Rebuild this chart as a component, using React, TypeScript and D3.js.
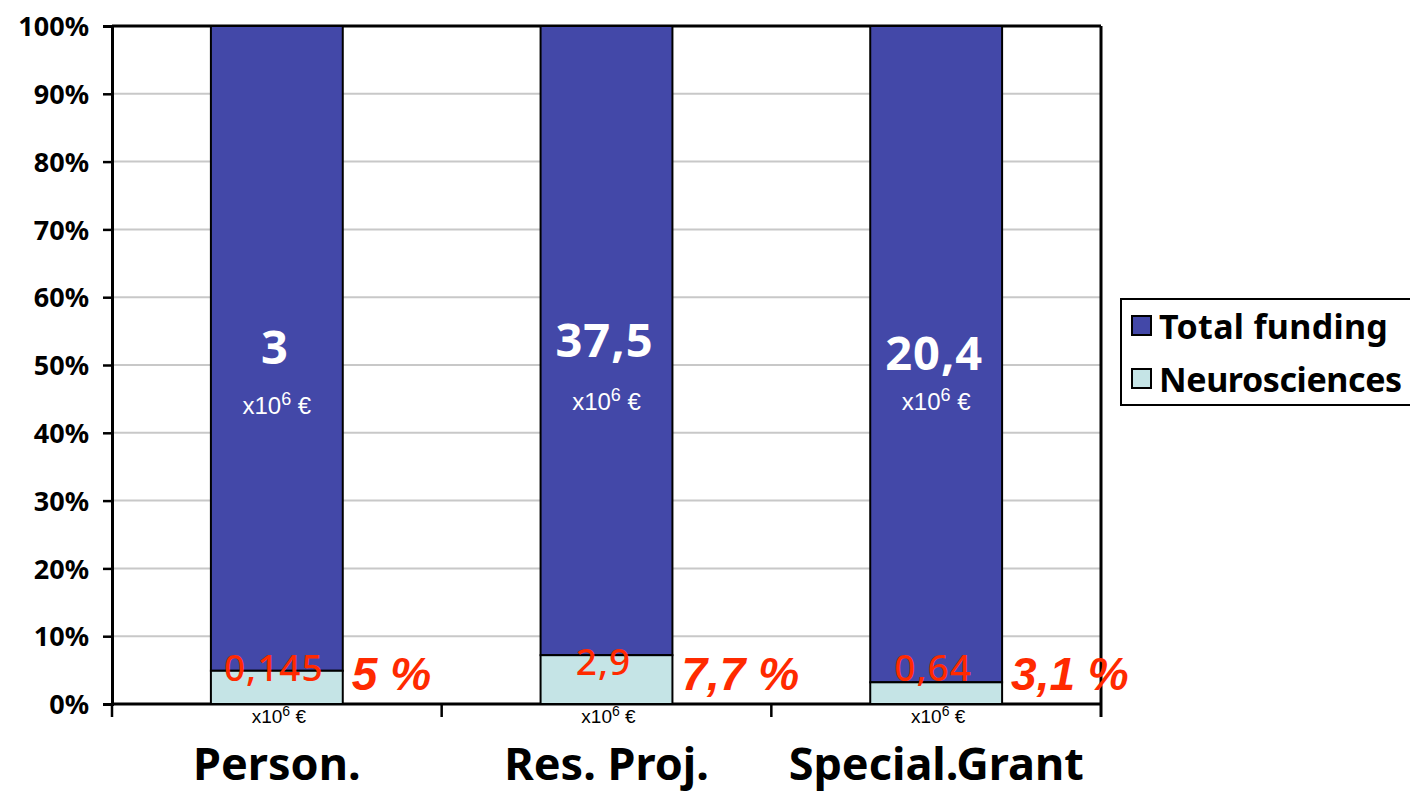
import React, { useEffect, useRef } from 'react';
import * as d3 from 'd3';

const categories = ['Person.', 'Res. Proj.', 'Special.Grant'];
const totalLabels = ['3', '37,5', '20,4'];
const neuroLabels = ['0,145', '2,9', '0,64'];
const shareLabels = ['5 %', '7,7 %', '3,1 %'];
// Neurosciences share of each bar, rest is Total funding
const neuroShare = [4.9, 7.2, 3.2];
const yTicks = [0, 10, 20, 30, 40, 50, 60, 70, 80, 90, 100];
const legendItems = [
  { name: 'Total funding', color: '#4348a8' },
  { name: 'Neurosciences', color: '#c5e4e6' },
];

const sans = '"Noto Sans", "DejaVu Sans", sans-serif';
const arial = '"Liberation Sans", Arial, sans-serif';

const App: React.FC = () => {
  const ref = useRef<SVGSVGElement>(null);

  useEffect(() => {
    const svg = d3.select(ref.current);
    svg.selectAll('*').remove();

    const left = 112, right = 1101, top = 26, bottom = 704;

    const x = d3.scaleBand().domain(categories).range([left, right]).padding(0);
    const y = d3.scaleLinear().domain([0, 100]).range([bottom, top]);
    const barW = x.bandwidth() * 0.4;
    const cx = (c: string) => x(c)! + x.bandwidth() / 2;

    // gridlines
    svg.append('g')
      .selectAll('line')
      .data(yTicks.filter(t => t > 0))
      .enter()
      .append('line')
      .attr('x1', left).attr('x2', right)
      .attr('y1', d => y(d)).attr('y2', d => y(d))
      .attr('stroke', '#c8c8c8').attr('stroke-width', 2);

    // y axis
    const yAxis = svg.append('g')
      .attr('transform', `translate(${left},0)`)
      .call(d3.axisLeft(y).tickValues(yTicks).tickSize(9).tickFormat(d => `${d}%`));
    yAxis.select('.domain').attr('stroke', '#000').attr('stroke-width', 3);
    yAxis.selectAll('.tick line').attr('stroke', '#000').attr('stroke-width', 2.5);
    yAxis.selectAll('.tick text')
      .attr('x', -23)
      .attr('dy', '0.36em')
      .attr('fill', '#000')
      .style('font-family', sans)
      .style('font-weight', 'bold')
      .style('font-size', '27px');

    // top and right borders
    svg.append('line').attr('x1', left).attr('x2', right).attr('y1', top).attr('y2', top)
      .attr('stroke', '#000').attr('stroke-width', 3);
    svg.append('line').attr('x1', right).attr('x2', right).attr('y1', top).attr('y2', bottom + 13)
      .attr('stroke', '#000').attr('stroke-width', 3);

    // bottom axis with category separators
    svg.append('line').attr('x1', left).attr('x2', right).attr('y1', bottom).attr('y2', bottom)
      .attr('stroke', '#000').attr('stroke-width', 3);
    svg.append('g')
      .selectAll('line')
      .data(categories)
      .enter()
      .append('line')
      .attr('x1', d => x(d)!).attr('x2', d => x(d)!)
      .attr('y1', bottom).attr('y2', bottom + 13)
      .attr('stroke', '#000').attr('stroke-width', 2.5);

    // stacked bars
    const g = svg.append('g');
    categories.forEach((c, i) => {
      const x0 = cx(c) - barW / 2;
      g.append('rect')
        .attr('x', x0).attr('y', y(100))
        .attr('width', barW).attr('height', y(neuroShare[i]) - y(100))
        .attr('fill', legendItems[0].color)
        .attr('stroke', '#000').attr('stroke-width', 2);
      g.append('rect')
        .attr('x', x0).attr('y', y(neuroShare[i]))
        .attr('width', barW).attr('height', y(0) - y(neuroShare[i]))
        .attr('fill', legendItems[1].color)
        .attr('stroke', '#000').attr('stroke-width', 2);
    });

    // labels in bars
    const totalY = [364, 357, 370];
    const unitY = [414, 410, 410];
    const neuroY = [681, 675, 681];
    categories.forEach((c, i) => {
      svg.append('text')
        .attr('x', cx(c) - 2).attr('y', totalY[i])
        .attr('text-anchor', 'middle').attr('fill', '#fff')
        .style('font-family', sans)
        .style('font-weight', 'bold').style('font-size', '47px')
        .style('letter-spacing', '1px')
        .text(totalLabels[i]);
      const u = svg.append('text')
        .attr('x', cx(c)).attr('y', unitY[i])
        .attr('text-anchor', 'middle').attr('fill', '#fff')
        .style('font-family', arial)
        .style('font-size', '24px');
      u.append('tspan').text('x10');
      u.append('tspan').attr('dy', -9).style('font-size', '18px').text('6');
      u.append('tspan').attr('dy', 9).text(' €');

      svg.append('text')
        .attr('x', cx(c) - 3).attr('y', neuroY[i])
        .attr('text-anchor', 'middle').attr('fill', '#ff2a00')
        .style('font-family', sans)
        .style('font-weight', 500)
        .style('font-size', '37px')
        .style('letter-spacing', '1px')
        .text(neuroLabels[i]);

      svg.append('text')
        .attr('x', cx(c) + barW / 2 + 9).attr('y', 690)
        .attr('fill', '#ff2a00')
        .style('font-family', arial)
        .style('font-weight', 'bold').style('font-style', 'italic')
        .style('font-size', '46px')
        .text(shareLabels[i]);

      const b = svg.append('text')
        .attr('x', cx(c) + 2).attr('y', 723)
        .attr('text-anchor', 'middle').attr('fill', '#000')
        .style('font-family', arial)
        .style('font-size', '19px');
      b.append('tspan').text('x10');
      b.append('tspan').attr('dy', -7).style('font-size', '14px').text('6');
      b.append('tspan').attr('dy', 7).text(' €');

      svg.append('text')
        .attr('x', cx(c)).attr('y', 780)
        .attr('text-anchor', 'middle').attr('fill', '#000')
        .style('font-family', sans)
        .style('font-weight', 'bold').style('font-size', '45px')
        .text(c);
    });

    // legend
    const lg = svg.append('g');
    lg.append('rect')
      .attr('x', 1121).attr('y', 299).attr('width', 300).attr('height', 106)
      .attr('fill', '#fff').attr('stroke', '#000').attr('stroke-width', 2);
    legendItems.forEach((d, i) => {
      lg.append('rect')
        .attr('x', 1132).attr('y', 316 + i * 53).attr('width', 19).attr('height', 19)
        .attr('fill', d.color).attr('stroke', '#000').attr('stroke-width', 2);
      lg.append('text')
        .attr('x', 1159).attr('y', 339 + i * 53)
        .attr('fill', '#000')
        .style('font-family', sans)
        .style('font-weight', 'bold').style('font-size', '34px')
        .style('letter-spacing', i === 1 ? '-0.4px' : '0.3px')
        .text(d.name);
    });
  }, []);

  return (
    <svg ref={ref} width={1410} height={793}
      style={{ position: 'absolute', left: 0, top: 0, background: '#fff' }} />
  );
};

export default App;
